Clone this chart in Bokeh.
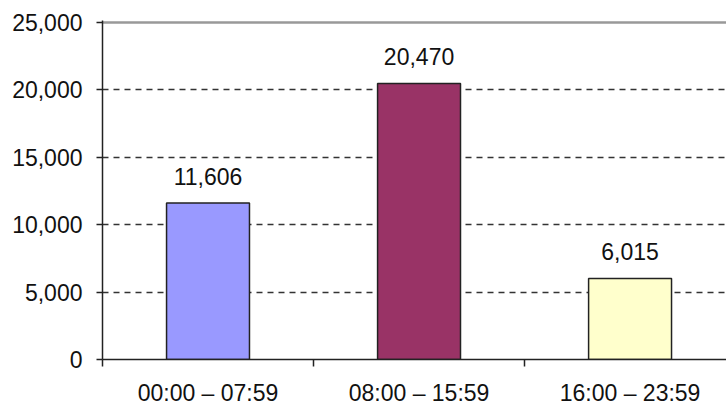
from bokeh.plotting import figure
from bokeh.models import Range1d, FixedTicker, NumeralTickFormatter, ColumnDataSource
from bokeh.core.properties import value
from bokeh.embed import file_html
from bokeh.resources import INLINE

categories = ["00:00 – 07:59", "08:00 – 15:59", "16:00 – 23:59"]
counts = [11606, 20470, 6015]
bar_colors = ["#9999FF", "#993366", "#FFFFCC"]
y_ticks = [0, 5000, 10000, 15000, 20000, 25000]

FONT = "Liberation Sans"
FS = "23px"

xs = [i + 0.5 for i in range(len(categories))]
src = ColumnDataSource(dict(
    x=xs, top=counts, color=bar_colors,
    label=[f"{v:,}" for v in counts],
))

x_range = Range1d(0, 2.957)
y_range = Range1d(0, 25150)

p = figure(width=726, height=408, output_backend="svg", toolbar_location=None,
           x_range=x_range, y_range=y_range,
           min_border_left=102, min_border_top=20, min_border_bottom=49,
           min_border_right=0)
p.outline_line_color = None
p.background_fill_color = "white"
p.border_fill_color = "white"

# top plot-area border (grey, solid)
p.segment(x0=[x_range.start], x1=[x_range.end + 1], y0=y_ticks[-1:], y1=y_ticks[-1:],
          line_color="#999999", line_width=2.5)

p.vbar(x="x", top="top", width=0.393, fill_color="color",
       line_color="#222222", line_width=1.5, source=src)
p.text(x="x", y="top", text="label", source=src, text_align="center",
       text_baseline="alphabetic", y_offset=-27,
       text_font=value(FONT), text_font_size=FS, text_color="#111111")

# y axis
p.yaxis.ticker = FixedTicker(ticks=y_ticks)
p.yaxis.formatter = NumeralTickFormatter(format="0,0")
p.yaxis.major_tick_in = 0
p.yaxis.major_tick_out = 6
p.yaxis.minor_tick_out = 0
p.yaxis.minor_tick_in = 0
p.yaxis.major_label_standoff = 14
p.yaxis.axis_line_color = "#222222"
p.yaxis.axis_line_width = 1.5
p.yaxis.major_tick_line_color = "#222222"
p.yaxis.major_tick_line_width = 1.5

# x axis: labels at category centres, ticks at category boundaries
p.xaxis.ticker = FixedTicker(ticks=xs, minor_ticks=list(range(len(categories) + 1)))
p.xaxis.major_label_overrides = {x: c for x, c in zip(xs, categories)}
p.xaxis.major_tick_out = 0
p.xaxis.major_tick_in = 0
p.xaxis.minor_tick_out = 7
p.xaxis.minor_tick_in = 0
p.xaxis.minor_tick_line_color = "#222222"
p.xaxis.minor_tick_line_width = 1.5
p.xaxis.major_label_standoff = 13
p.xaxis.axis_line_color = "#222222"
p.xaxis.axis_line_width = 1.5

for ax in (p.xaxis, p.yaxis):
    ax.major_label_text_font = FONT
    ax.major_label_text_font_size = FS
    ax.major_label_text_color = "#111111"

p.xgrid.grid_line_color = None
p.ygrid.ticker = FixedTicker(ticks=y_ticks[1:-1])
p.ygrid.grid_line_color = "#333333"
p.ygrid.grid_line_dash = "6 5"
p.ygrid.grid_line_width = 1.5

open("out.html", "w").write(file_html(p, INLINE))
